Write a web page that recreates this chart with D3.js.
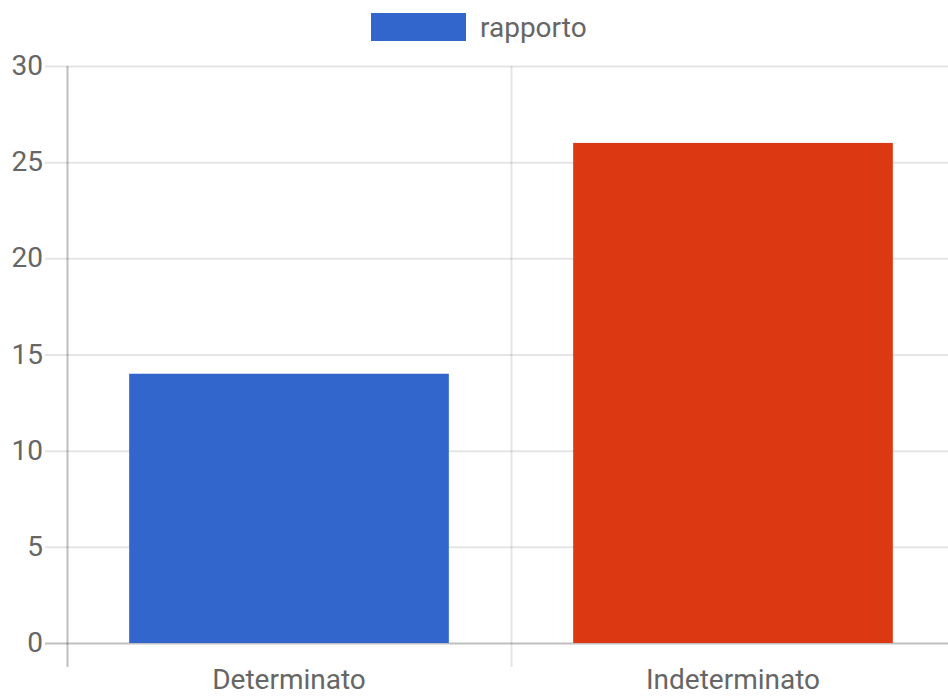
<!DOCTYPE html>
<html><head><meta charset="utf-8">
<script src="https://cdn.jsdelivr.net/npm/d3@7"></script>
<style>html,body{margin:0;padding:0;background:#fff;}svg{display:block;}</style>
</head><body>
<svg id="chart" width="948" height="697"></svg>
<script>
const categories = ["Determinato", "Indeterminato"];
const values = [14, 26];
const barColors = ["#3366CC", "#DC3912"];
const seriesName = "rapporto";
const yTicks = [0, 5, 10, 15, 20, 25, 30];

(function () {
const svg = d3.select("#chart");
const font = "Roboto, 'Liberation Sans', Arial, sans-serif";
const fs = 28;
const mLeft = 67, mRight = 955, mTop = 66, mBottom = 643;

const x = d3.scaleBand().domain(categories).range([mLeft, mRight]).paddingInner(0).paddingOuter(0);
const y = d3.scaleLinear().domain([0, 30]).range([mBottom, mTop]);

// horizontal grid lines
svg.append("g").selectAll("line").data(yTicks).join("line")
  .attr("x1", mLeft - 22).attr("x2", 948)
  .attr("y1", d => y(d) + 0.5).attr("y2", d => y(d) + 0.5)
  .attr("stroke", d => d === 0 ? "rgba(0,0,0,0.25)" : "rgba(0,0,0,0.1)")
  .attr("stroke-width", 2);

// vertical grid lines
const vlines = categories.map(c => x(c)).concat([mRight]);
svg.append("g").selectAll("line").data(vlines).join("line")
  .attr("x1", d => d + 0.5).attr("x2", d => d + 0.5)
  .attr("y1", mTop).attr("y2", mBottom + 24)
  .attr("stroke", (d, i) => i === 0 ? "rgba(0,0,0,0.25)" : "rgba(0,0,0,0.1)")
  .attr("stroke-width", 2);

// bars
const bw = x.bandwidth() * 0.72;
svg.append("g").selectAll("rect").data(categories).join("rect")
  .attr("x", d => x(d) + (x.bandwidth() - bw) / 2)
  .attr("width", bw)
  .attr("y", (d, i) => y(values[i]))
  .attr("height", (d, i) => y(0) - y(values[i]))
  .attr("fill", (d, i) => barColors[i]);

// y tick labels
svg.append("g").selectAll("text").data(yTicks).join("text")
  .attr("x", 43).attr("y", d => y(d) + 9)
  .attr("text-anchor", "end")
  .attr("font-family", font).attr("font-size", fs)
  .attr("fill", "#666")
  .text(d => d);

// x tick labels
svg.append("g").selectAll("text").data(categories).join("text")
  .attr("x", d => x(d) + x.bandwidth() / 2).attr("y", 689)
  .attr("text-anchor", "middle")
  .attr("font-family", font).attr("font-size", fs)
  .attr("fill", "#666")
  .text(d => d);

// legend
const lg = svg.append("g");
lg.append("rect").attr("x", 371).attr("y", 13).attr("width", 95).attr("height", 28)
  .attr("fill", barColors[0]);
lg.append("text").attr("x", 480).attr("y", 37)
  .attr("font-family", font).attr("font-size", fs).attr("fill", "#666")
  .text(seriesName);
})();
</script>
</body></html>
